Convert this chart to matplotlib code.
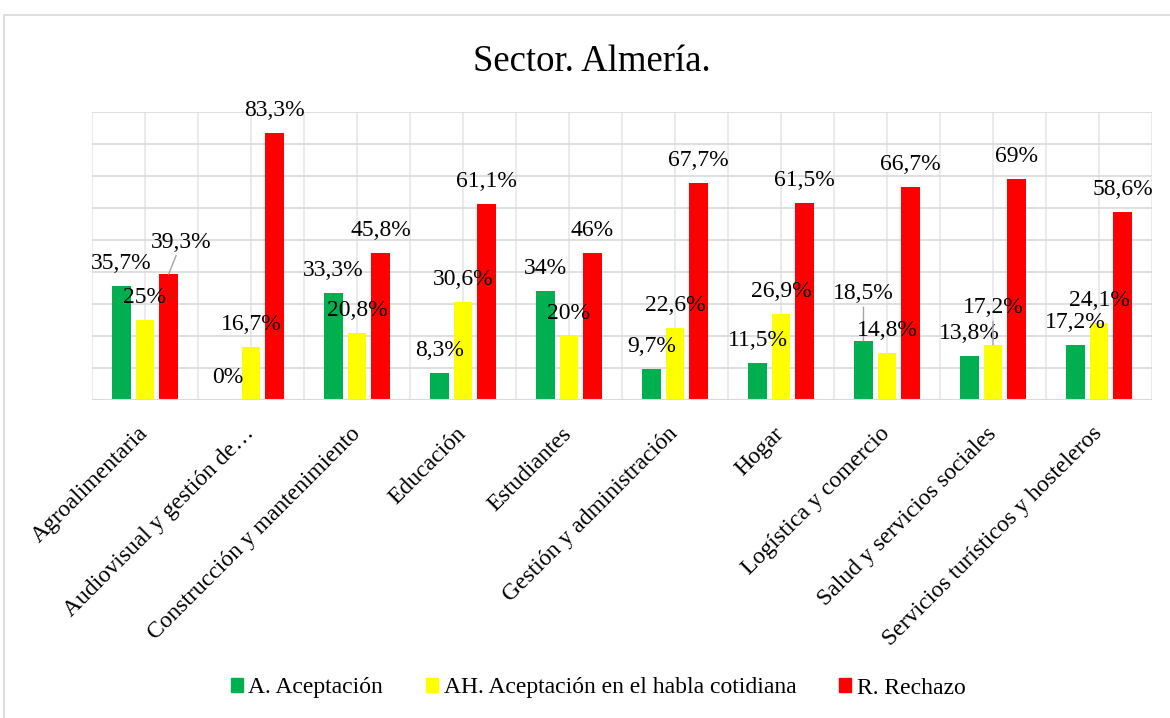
import numpy as np
import matplotlib.pyplot as plt
from matplotlib.patches import Patch, Rectangle

plt.rcParams['font.family'] = ['Liberation Serif', 'DejaVu Serif']

categorias = ["Agroalimentaria", "Audiovisual y gestión de…",
              "Construcción y mantenimiento", "Educación", "Estudiantes",
              "Gestión y administración", "Hogar", "Logística y comercio",
              "Salud y servicios sociales", "Servicios turísticos y hosteleros"]
aceptacion = [35.7, 0, 33.3, 8.3, 34, 9.7, 11.5, 18.5, 13.8, 17.2]
habla = [25, 16.7, 20.8, 30.6, 20, 22.6, 26.9, 14.8, 17.2, 24.1]
rechazo = [39.3, 83.3, 45.8, 61.1, 46, 67.7, 61.5, 66.7, 69, 58.6]

series = [("A. Aceptación", aceptacion, "#00B050"),
          ("AH. Aceptación en el habla cotidiana", habla, "#FFFF00"),
          ("R. Rechazo", rechazo, "#FF0000")]

# labels moved by hand in the original (serie, categoria): (dx, dy) pixels
moved = {(2, 0): (13, 32), (0, 7): (0, 47), (1, 8): (0, 37)}

fsz = 17
fig = plt.figure(figsize=(11.7, 7.18), dpi=100)
fig.patches.append(Rectangle((4/1170, -0.1), 1.2, 1.1 - 15/718,
                             transform=fig.transFigure, fill=False,
                             ec="#d9d9d9", lw=1.2))
ax = fig.add_axes([92/1170, 1-400/718, 1060/1170, 288/718])

x = np.arange(len(categorias))
w = 0.179
sp = 0.222
for k, (name, vals, col) in enumerate(series):
    xs = x + (k-1)*sp
    ax.bar(xs, vals, w, color=col, label=name, zorder=3)
    for i, v in enumerate(vals):
        txt = f"{v:g}".replace(".", ",") + "%"
        dx, dy = moved.get((k, i), (0, 22.5))
        if (k, i) in moved:
            ax.annotate(txt, xy=(xs[i], v), xytext=(dx, dy),
                        textcoords="offset pixels", ha="center", va="center",
                        fontsize=fsz, zorder=5,
                        arrowprops=dict(arrowstyle="-", color="#a6a6a6",
                                        lw=1, shrinkA=0, shrinkB=0))
        else:
            ax.annotate(txt, xy=(xs[i], v), xytext=(dx, dy),
                        textcoords="offset pixels", ha="center", va="center",
                        fontsize=fsz, zorder=5)

ax.set_xlim(-0.5, 9.5)
ax.set_ylim(0, 90)
ax.set_yticks(np.arange(0, 91, 10))
ax.set_yticklabels([])
ax.yaxis.grid(True, color="#d9d9d9", lw=1.2, zorder=0)
for gx in np.arange(-0.5, 9.6, 0.5):
    ax.axvline(gx, color="#e8e8e8", lw=1.2, zorder=0)
for s in ax.spines.values():
    s.set_visible(False)
ax.axhline(0, color="#d9d9d9", lw=1.5, zorder=4)
ax.tick_params(length=0)
ax.set_xticks(x)
ax.set_xticklabels(categorias, rotation=45, ha="right", va="center",
                   rotation_mode="anchor", fontsize=fsz)
ax.tick_params(axis="x", pad=22)

fig.text(0.506, 1-62/718, "Sector. Almería.", ha="center", va="center",
         fontsize=26.5)

handles = [Patch(color=c, label=n) for n, v, c in series]
fig.legend(handles=handles, loc="center", bbox_to_anchor=(598/1170, 1-688/718),
           ncol=3, frameon=False, fontsize=fsz, handlelength=0.51,
           handleheight=0.51, handletextpad=0.25, columnspacing=1.8)

fig.savefig("out.png", dpi=100)
